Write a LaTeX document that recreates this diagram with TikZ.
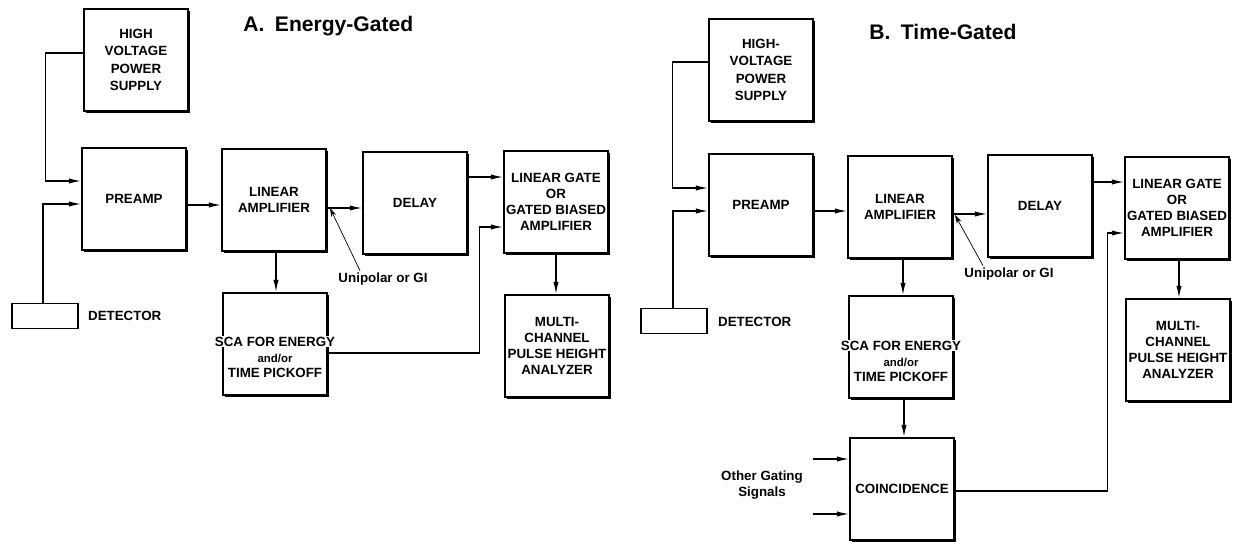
\documentclass[tikz,border=0pt]{standalone}
\usepackage{fontspec}
\setmainfont{Liberation Sans}
\usetikzlibrary{arrows.meta,shadows}

\begin{document}
\begin{tikzpicture}[x=0.02cm,y=-0.02cm,
    blk/.style={draw,fill=white,line width=0.9pt,minimum width=2.08cm,minimum height=2.04cm,
        align=center,inner sep=1pt,font=\bfseries\fontsize{7.6}{9}\selectfont,
        general shadow={fill=black,shadow xshift=1.1pt,shadow yshift=-1.1pt}},
    hv/.style={blk,font=\bfseries\fontsize{7.6}{9.8}\selectfont},
    det/.style={draw,fill=white,line width=0.9pt,minimum width=1.32cm,minimum height=0.5cm},
    lbl/.style={font=\bfseries\fontsize{7.6}{9}\selectfont,align=center,inner sep=1pt},
    ttl/.style={font=\bfseries\fontsize{12}{14}\selectfont,anchor=west,inner sep=0pt},
    arr/.style={line width=0.8pt,-{Latex[length=7pt,width=3pt]}},
    ptr/.style={line width=0.4pt,-{Stealth[length=5pt,width=3pt]}}]
    \useasboundingbox (0,0) rectangle (1235,546);

    \node[ttl] (titleA) at (243,26) {A.\enspace Energy-Gated};
    \node[hv] (hvA) at (136,60) {HIGH\\VOLTAGE\\POWER\\SUPPLY};
    \node[blk] (preA) at (134,199) {PREAMP};
    \node[blk] (laA) at (274,200) {LINEAR\\AMPLIFIER};
    \node[blk] (delA) at (415,203) {DELAY};
    \node[blk] (lgA) at (556,202) {LINEAR GATE\\OR\\GATED BIASED\\AMPLIFIER};
    \node[blk] (mcaA) at (557,346) {MULTI-\\CHANNEL\\PULSE HEIGHT\\ANALYZER};
    \node[blk] (scaA) at (275,344) {};
    \node[lbl] (scaAt) at (275,357) {{\fboxsep=0.5pt\colorbox{white}{SCA FOR ENERGY}}\\{\fontsize{6.5}{8}\selectfont and/or}\\TIME PICKOFF};
    \node[det] (detA) at (45,316) {};
    \node[lbl,anchor=west] (detAt) at (86,316) {DETECTOR};
    \node[lbl] (uniA) at (383,279) {Unipolar or GI};
    \coordinate (tapA) at (330,208);

    \draw[arr] (hvA.west |- 0,53) -- ++(-38,0) |- (preA.west |- 0,181);
    \draw[arr] (detA.north -| 43,0) |- (preA.west |- 0,204);
    \draw[arr] (preA.east |- 0,205) -- (laA.west |- 0,205);
    \draw[arr] (laA.east |- 0,208) -- (delA.west |- 0,208);
    \draw[arr] (delA.east |- 0,177) -- (lgA.west |- 0,177);
    \draw[arr] (laA.south -| 276,0) -- (scaA.north -| 276,0);
    \draw[arr] (lgA.south -| 556,0) -- (mcaA.north -| 556,0);
    \draw[arr] (scaA.east |- 0,353) -- ++(152,0) |- (lgA.west |- 0,227);
    \draw[ptr] (uniA.north -| 360,0) -- (tapA);

    \node[ttl] (titleB) at (869,32) {B.\enspace Time-Gated};
    \node[hv] (hvB) at (761,70) {HIGH-\\VOLTAGE\\POWER\\SUPPLY};
    \node[blk] (preB) at (761,205) {PREAMP};
    \node[blk] (laB) at (900,207) {LINEAR\\AMPLIFIER};
    \node[blk] (delB) at (1040,206) {DELAY};
    \node[blk] (lgB) at (1177,208) {LINEAR GATE\\OR\\GATED BIASED\\AMPLIFIER};
    \node[blk] (mcaB) at (1178,350) {MULTI-\\CHANNEL\\PULSE HEIGHT\\ANALYZER};
    \node[blk] (scaB) at (901,347) {};
    \node[lbl] (scaBt) at (901,361) {{\fboxsep=0.5pt\colorbox{white}{SCA FOR ENERGY}}\\{\fontsize{6.5}{8}\selectfont and/or}\\TIME PICKOFF};
    \node[blk] (coinB) at (902,489) {COINCIDENCE};
    \node[det] (detB) at (674,321) {};
    \node[lbl,anchor=west] (detBt) at (716,322) {DETECTOR};
    \node[lbl] (uniB) at (1009,274) {Unipolar or GI};
    \node[lbl] (ogB) at (762,485) {Other Gating\\Signals};
    \coordinate (tapB) at (955,215);
    \coordinate (og1) at (813,459);
    \coordinate (og2) at (813,514);

    \draw[arr] (hvB.west |- 0,62) -- ++(-36,0) |- (preB.west |- 0,188);
    \draw[arr] (detB.north -| 673,0) |- (preB.west |- 0,211);
    \draw[arr] (preB.east |- 0,211) -- (laB.west |- 0,211);
    \draw[arr] (laB.east |- 0,214) -- (delB.west |- 0,214);
    \draw[arr] (delB.east |- 0,182) -- (lgB.west |- 0,182);
    \draw[arr] (laB.south -| 903,0) -- (scaB.north -| 903,0);
    \draw[arr] (scaB.south -| 904,0) -- (coinB.north -| 904,0);
    \draw[arr] (lgB.south -| 1179,0) -- (mcaB.north -| 1179,0);
    \draw[arr] (coinB.east |- 0,491) -- ++(153,0) |- (lgB.west |- 0,233);
    \draw[arr] (og1) -- (coinB.west |- og1);
    \draw[arr] (og2) -- (coinB.west |- og2);
    \draw[ptr] (uniB.north -| 983,0) -- (tapB);
\end{tikzpicture}
\end{document}
